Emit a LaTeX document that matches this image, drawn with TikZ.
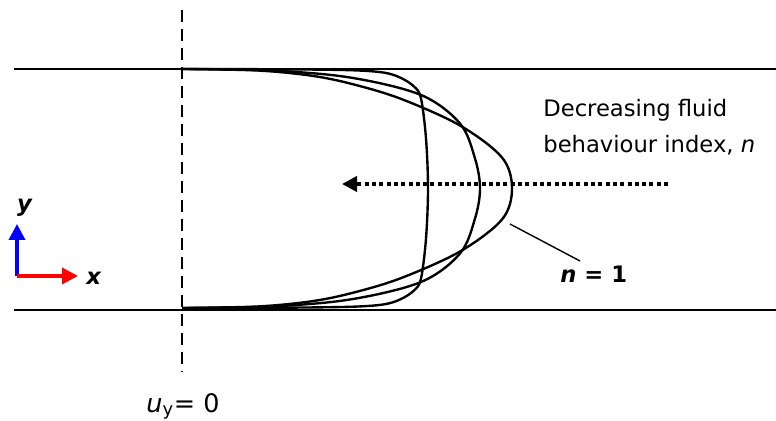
\documentclass[tikz,border=0pt]{standalone}
\usepackage{fontspec}
\setmainfont{DejaVu Sans}
\usetikzlibrary{arrows.meta, positioning}

\begin{document}
\begin{tikzpicture}[x=0.02cm, y=-0.02cm,
  wall/.style={line width=1.15pt},
  axisline/.style={line width=1.5pt, dash pattern=on 0.24cm off 0.14cm},
  profile/.style={line width=1.35pt, smooth, tension=0.55},
  flow/.style={line width=0.08cm, dash pattern=on 0.08cm off 0.066cm,
    -{Triangle[length=0.3cm, width=0.3cm]}},
  frame/.style={line width=0.07cm, -{Triangle[length=0.32cm, width=0.32cm]}},
  lbl/.style={font=\fontsize{12.9}{15}\selectfont, inner sep=0pt}
]
  \useasboundingbox (0,0) rectangle (776,421);

  % Walls and centre line
  \coordinate (topL) at (14,69);   \coordinate (topR) at (776,69);
  \coordinate (botL) at (14,310);  \coordinate (botR) at (776,310);
  \coordinate (axT)  at (182,10);  \coordinate (axB)  at (182,372);
  \draw[wall] (topL) -- (topR);
  \draw[wall] (botL) -- (botR);
  \draw[axisline] (axT) -- (axB);

  % Velocity profiles
  \draw[profile] plot coordinates {(182,69) (257,70.5) (310,75.5) (350,83.5)
    (400,98.5) (460,125.5) (502,157.5) (512,188.5) (502,219.5) (460,251.5)
    (400,278.5) (350,293.5) (310,301.5) (257,306.5) (182,308)};
  \draw[profile] plot coordinates {(182,69) (270,70.5) (350,77.5) (421,95)
    (460,123.5) (475,158.5) (480,188.5) (475,218.5) (460,253.5) (421,282)
    (350,299.5) (270,306.5) (182,308)};
  \draw[profile] plot coordinates {(182,69) (280,69.3) (350,70.2) (383,72.5)
    (400,77.5) (414,86.5) (421,98.5) (426,138.5) (428,188.5) (426,238.5)
    (421,278.5) (414,290.5) (400,299.5) (383,304.5) (350,306.8) (280,307.7)
    (182,308)};

  % Decreasing n
  \coordinate (flowR) at (668,184);
  \coordinate (flowL) at (342,184);
  \draw[flow] (flowR) -- (flowL);
  \node[lbl, anchor=base west] (decr)  at (543,117) {Decreasing fluid};
  \node[lbl, anchor=base west] (index) at (543,153) {behaviour index, \textit{n}};

  % n = 1 label
  \node[lbl, anchor=base west] (none) at (560,283) {\textbf{\textit{n} = 1}};
  \coordinate (leadA) at (510,224);
  \coordinate (leadB) at (580,261);
  \draw[line width=0.8pt] (leadA) -- (leadB);

  % Frame
  \coordinate (orig) at (17,276);
  \coordinate (ytip) at (17,224);
  \coordinate (xtip) at (78,276);
  \draw[frame, blue] (orig) -- (ytip);
  \draw[frame, red]  (orig) -- (xtip);
  \node[lbl] (ylbl) at (25,208) {\textbf{\textit{y}}};
  \node[lbl] (xlbl) at (94,278) {\textbf{\textit{x}}};

  % u_y = 0
  \node[lbl, font=\fontsize{14.5}{17}\selectfont, anchor=base west] (uzero) at (146,412)
    {\textit{u}\textsubscript{y}= 0};
\end{tikzpicture}
\end{document}
